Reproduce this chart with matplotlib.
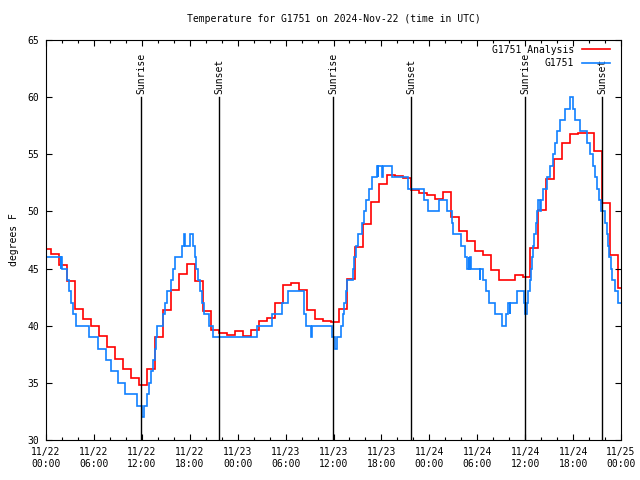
import numpy as np
import matplotlib
matplotlib.use("Agg")
import matplotlib.pyplot as plt
from matplotlib.ticker import MultipleLocator

# Hours since 2024-11-22 00:00 UTC

# G1751 Analysis: hourly values, each step starts 20 min before the hour
red_temps = [
    46.7, 46.3, 45.3, 43.9, 41.5, 40.6, 40.0, 39.1, 38.1, 37.1, 36.2, 35.4,
    34.8, 36.2, 39.0, 41.4, 43.1, 44.5, 45.4, 43.9, 41.3, 39.6, 39.4, 39.2,
    39.5, 39.1, 39.6, 40.4, 40.7, 42.0, 43.6, 43.7, 43.1, 41.4, 40.6, 40.4,
    40.3, 41.5, 44.1, 46.9, 48.9, 50.8, 52.4, 53.2, 53.1, 52.9, 51.9, 51.6,
    51.4, 51.1, 51.7, 49.5, 48.3, 47.4, 46.5, 46.2, 44.9, 44.0, 44.0, 44.4,
    44.3, 46.8, 50.1, 52.8, 54.6, 56.0, 56.8, 56.9, 56.9, 55.3, 50.7, 46.2,
    43.3,
]

# G1751 observations: time of each change and the new reading
blue_hours = [
    0, 1.85, 1.92, 2.05, 2.67, 2.92, 3.13, 3.42, 3.76, 5.43, 6.5, 7.5,
    8.15, 9.0, 9.93, 11.43, 12.0, 12.3, 12.65, 12.95, 13.2, 13.4, 13.6, 13.75,
    13.94, 14.6, 14.9, 15.1, 15.6, 15.9, 16.15, 17.0, 17.3, 17.36, 18.0, 18.45,
    18.66, 18.8, 19.0, 19.25, 19.5, 19.75, 20.35, 20.95, 26.4, 28.3, 29.6, 30.3,
    32.3, 32.55, 33.2, 33.25, 35.8, 36.15, 36.5, 37.0, 37.15, 37.35, 37.57, 37.73,
    38.4, 38.57, 38.78, 39.1, 39.61, 39.82, 40.1, 40.49, 40.78, 41.41, 41.55, 41.6,
    42.1, 42.15, 43.28, 45.3, 47.33, 47.88, 49.26, 50.18, 50.8, 51.0, 52.0, 52.47,
    52.68, 52.95, 53.0, 53.15, 53.2, 54.3, 54.35, 54.68, 55.1, 55.47, 56.22, 57.06,
    57.6, 57.89, 58.1, 58.15, 58.93, 59.8, 60.0, 60.2, 60.4, 60.6, 60.73, 60.86,
    61.02, 61.15, 61.31, 61.44, 61.65, 61.9, 61.95, 62.27, 62.7, 63.11, 63.53, 63.74,
    64.03, 64.36, 64.99, 65.61, 66.03, 66.24, 66.87, 67.7, 68.12, 68.45, 68.75, 68.95,
    69.25, 69.5, 70.0, 70.21, 70.42, 70.54, 70.75, 70.92, 71.25, 71.67,
]
blue_temps = [
    46, 45, 46, 45, 44, 43, 42, 41, 40, 39, 38, 37,
    36, 35, 34, 33, 32, 33, 34, 35, 36, 37, 38, 39,
    40, 41, 42, 43, 44, 45, 46, 47, 48, 47, 48, 47,
    46, 45, 44, 43, 42, 41, 40, 39, 40, 41, 42, 43,
    41, 40, 39, 40, 39, 38, 39, 40, 41, 42, 43, 44,
    45, 46, 47, 48, 49, 50, 51, 52, 53, 54, 53, 54,
    53, 54, 53, 52, 51, 50, 51, 50, 49, 48, 47, 46,
    45, 46, 45, 46, 45, 44, 45, 44, 43, 42, 41, 40,
    41, 42, 41, 42, 43, 42, 41, 42, 43, 44, 45, 46,
    47, 48, 49, 50, 51, 50, 51, 52, 53, 54, 55, 56,
    57, 58, 59, 60, 59, 58, 57, 56, 55, 54, 53, 52,
    51, 50, 49, 48, 47, 46, 45, 44, 43, 42,
]

sun_hours = [11.95, 21.7, 35.97, 45.72, 60.0, 69.67]
sun_labels = ["Sunrise", "Sunset", "Sunrise", "Sunset", "Sunrise", "Sunset"]

tick_labels = [
    "11/22\n00:00", "11/22\n06:00", "11/22\n12:00", "11/22\n18:00",
    "11/23\n00:00", "11/23\n06:00", "11/23\n12:00", "11/23\n18:00",
    "11/24\n00:00", "11/24\n06:00", "11/24\n12:00", "11/24\n18:00",
    "11/25\n00:00",
]

END = 72
FONT = "DejaVu Sans Mono"
plt.rcParams["font.family"] = FONT
plt.rcParams["font.size"] = 7

fig = plt.figure(figsize=(6.4, 4.8), dpi=100)
ax = fig.add_axes([46 / 640, 40 / 480, 575 / 640, 400 / 480])

# sunrise / sunset markers
for h, label in zip(sun_hours, sun_labels):
    ax.plot([h, h], [30, 60], color="black", lw=1.0)
    ax.text(h, 60.3, label, rotation=90, ha="center", va="bottom")

red_edges = np.clip(np.arange(len(red_temps) + 1) - 1 / 3, 0, END)
red_edges[-1] = END
ax.stairs(red_temps, red_edges, baseline=None, color="#ff0000", lw=1.2,
          label="G1751 Analysis")
ax.stairs(blue_temps, blue_hours + [END], baseline=None, color="#1080ff",
          lw=1.2, label="G1751")

ax.set_xlim(0, END)
ax.set_ylim(30, 65)
ax.set_xticks(np.arange(0, END + 1, 6))
ax.set_xticklabels(tick_labels)
ax.xaxis.set_minor_locator(MultipleLocator(2))
ax.set_yticks(np.arange(30, 66, 5))
ax.tick_params(which="both", direction="in", top=True, right=True, width=0.8)
ax.tick_params(which="major", length=4.5)
ax.tick_params(which="minor", length=2.5)
ax.tick_params(axis="x", pad=5)
ax.tick_params(axis="y", pad=5)
for s in ax.spines.values():
    s.set_linewidth(0.8)

ax.set_title("Temperature for G1751 on 2024-Nov-22 (time in UTC)", pad=13,
             fontsize=7)
fig.text(14 / 640, 0.5, "degrees F", rotation=90, ha="center", va="center")

ax.legend(loc="upper right", bbox_to_anchor=(1 - 4 / 575, 1 + 2 / 400),
          frameon=False, markerfirst=False, handlelength=2.9,
          handletextpad=0.8, labelspacing=0.35, borderaxespad=0.3)

fig.savefig("out.png", dpi=100)
